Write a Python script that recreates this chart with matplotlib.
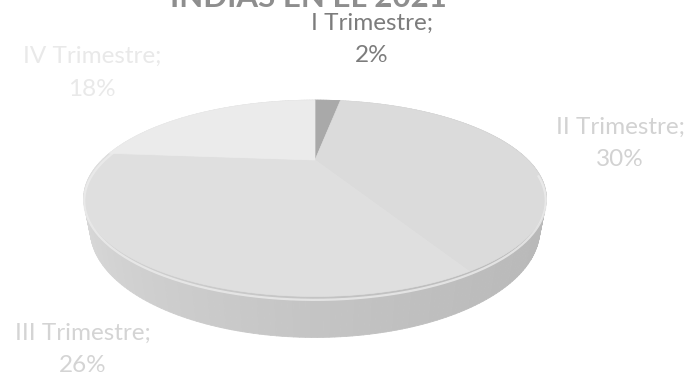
import numpy as np
import matplotlib.pyplot as plt
from matplotlib.collections import PolyCollection

# trimestres y su porcentaje
trimestres = ['I Trimestre', 'II Trimestre', 'III Trimestre', 'IV Trimestre']
porcentajes = [2, 30, 26, 18]
titulo = 'INDIAS EN EL 2021'

# colores de la cara superior y de las etiquetas
col_tapa = ['#a9a9a9', '#dbdbdb', '#dfdfdf', '#ebebeb']
col_etiq = ['#7c7c7c', '#d2d2d2', '#d4d4d4', '#e9e9e9']
# posicion de las etiquetas (px)
pos_etiq = [(372, 23), (620, 127), (83, 333), (92, 56)]

plt.rcParams['font.family'] = ['Lato', 'DejaVu Sans']

W, H = 688, 377
fig = plt.figure(figsize=(W / 100, H / 100), dpi=100)
ax = fig.add_axes([0, 0, 1, 1])
ax.set_xlim(0, W)
ax.set_ylim(H, 0)
ax.axis('off')

# camara: inclinacion y perspectiva
cx, cy, R = 315, 160, 213
elev = np.radians(23)
ce, se = np.cos(elev), np.sin(elev)
D = 2.36
alto = 0.15


def proy(phi, z, r=1.0):
    X, Y = r * np.sin(phi), r * np.cos(phi)
    yc = z * ce + Y * se
    d = Y * ce - z * se
    k = D / (D + d)
    return cx + R * X * k, cy - R * yc * k


vals = np.array(porcentajes, dtype=float)
bordes = np.concatenate([[0], np.cumsum(vals) / vals.sum() * 2 * np.pi])

# costado del cilindro, de atras hacia adelante
quads, colores, prof = [], [], []
for i in range(len(vals)):
    a0, a1 = bordes[i], bordes[i + 1]
    n = max(int(np.degrees(a1 - a0)), 2)
    ang = np.linspace(a0, a1, n + 1)
    for p0, p1 in zip(ang[:-1], ang[1:]):
        q = [proy(p0, 0), proy(p1, 0), proy(p1, -alto), proy(p0, -alto)]
        pm = (p0 + p1) / 2
        # luz desde la izquierda
        g = 0.80 - 0.07 * np.sin(pm) + 0.03 * np.cos(pm)
        if i == 0:
            g -= 0.12
        quads.append(q)
        colores.append((g, g, g))
        prof.append(np.cos(pm))
orden = np.argsort(prof)[::-1]
quads = [quads[j] for j in orden]
colores = [colores[j] for j in orden]
ax.add_collection(PolyCollection(quads, facecolors=colores, edgecolors=colores, linewidths=0.6))

# brillo en el borde superior del costado
ang = np.linspace(np.pi * 0.55, np.pi * 1.55, 200)
bx, by = zip(*[proy(a, -0.012) for a in ang])
ax.plot(bx, by, color='#ececec', lw=1.6, alpha=0.8)

# cara superior de cada porcion
for i in range(len(vals)):
    ang = np.linspace(bordes[i], bordes[i + 1], 120)
    pts = [proy(0, 0, r=0)] + [proy(a, 0) for a in ang]
    ax.fill(*zip(*pts), color=col_tapa[i], ec=col_tapa[i], lw=0.5)

# etiquetas: nombre; valor
for i, nombre in enumerate(trimestres):
    x, y = pos_etiq[i]
    ax.text(x, y, nombre + ';', color=col_etiq[i], fontsize=17.5,
            ha='center', va='center')
    ax.text(x, y + 33, f'{porcentajes[i]}%', color=col_etiq[i], fontsize=17.5,
            ha='center', va='center')

ax.text(308, 7, titulo, color='#8e8e8e', fontsize=22.5, fontweight='bold',
        ha='center', va='baseline')

fig.savefig('out.png', dpi=100, facecolor='white')
